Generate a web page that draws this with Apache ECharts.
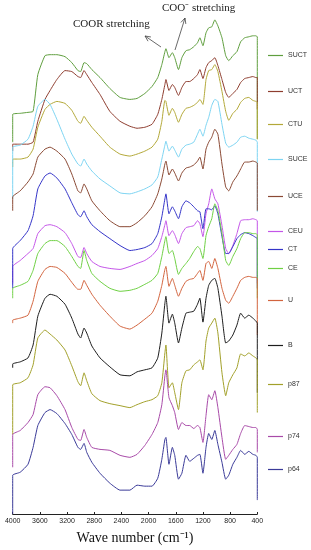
<!DOCTYPE html>
<html>
<head>
<meta charset="utf-8">
<script src="https://cdn.jsdelivr.net/npm/echarts@6/dist/echarts.min.js"></script>
<style>html,body{margin:0;padding:0;background:#fff}#c{width:311px;height:550px}</style>
</head>
<body>
<div id="c"></div>
<script>
// Wavenumbers (cm-1); the first and last entries repeat 4000 / 400 for the vertical edges of each trace
const wavenumbers = [4000,4000,3890,3775,3700,3630,3525,3450,3350,3230,3130,3040,3000,2950,2910,2835,2715,2570,2420,2275,2170,2055,1950,1865,1805,1760,1745,1700,1650,1615,1560,1510,1450,1395,1335,1280,1245,1200,1155,1115,1070,1025,980,920,865,820,760,700,645,585,525,465,420,400,400];
const tickLabels = ['4000','3600','3200','2800','2400','2000','1600','1200','800','400'];
const seriesNames = ['SUCT','UCT','CTU','SUCE','UCE','CEU','CT','CE','U','B','p87','p74','p64'];
const seriesColors = ['#5f9e3e','#8e3d2f','#b3a838','#7dd4f2','#8a4934','#c456e8','#3434c8','#6fd044','#d2643e','#1e1e1e','#a2a02a','#a84aa8','#3a3a98'];
// Stacked (offset) spectra, arbitrary units
const SUCT = [374,402,403,404,405,442,461,462,462,460,454,446,445,454,453,447,439,428,419,417,418,423,430,439,452,465,468,459,464,459,447,459,466,467,470,474,479,471,484,489,490,497,491,479,461,456,461,465,475,479,480,481,481,480,377];
const UCT = [365,372,372,372,374,395,417,426,437,446,445,440,439,446,442,434,422,405,395,390,388,389,392,402,417,432,437,426,432,429,421,429,435,435,438,442,447,438,449,454,456,459,451,437,424,419,423,427,434,438,439,440,439,439,407];
const CTU = [349,357,357,359,367,389,407,412,415,413,406,395,393,400,396,389,380,369,362,360,362,365,369,377,395,416,415,401,408,404,394,402,408,409,411,414,417,412,437,446,447,452,445,425,405,396,403,407,414,418,419,416,415,414,377];
const SUCE = [317,369,371,377,390,410,417,412,397,377,362,352,350,357,352,345,337,330,323,322,324,327,331,339,357,371,375,365,370,366,359,367,371,372,374,382,387,380,391,399,411,417,415,392,373,369,371,374,379,380,378,377,376,374,304];
const UCE = [305,319,325,334,342,359,367,369,365,357,342,325,323,332,327,315,305,295,289,289,293,300,309,322,337,352,355,341,347,343,335,343,348,349,351,355,359,347,367,374,379,387,382,352,329,325,334,340,347,354,354,355,354,353,305];
const CEU = [232,249,255,262,267,282,290,291,289,283,272,259,258,268,262,254,249,247,246,249,252,255,260,267,279,291,295,280,285,281,272,282,288,289,290,295,292,279,302,312,327,317,312,290,267,262,270,282,295,296,296,297,296,295,232];
const CT = [227,267,275,285,300,327,340,343,338,327,313,301,299,305,299,291,284,277,270,265,266,268,272,282,299,317,322,302,309,305,297,309,315,313,309,305,304,287,307,307,306,310,302,279,262,262,269,277,281,283,282,280,278,277,227];
const CE = [217,227,230,234,245,262,272,275,275,269,259,249,247,265,255,242,234,227,224,225,227,231,235,242,259,275,279,262,265,257,241,247,252,257,264,269,267,257,280,289,297,312,305,282,255,250,259,267,277,283,283,282,282,281,217];
const U = [192,195,197,200,214,234,246,249,248,242,233,226,226,235,230,221,210,199,189,186,190,196,202,214,230,246,249,229,237,230,219,227,234,236,237,242,245,235,252,254,247,257,247,227,215,212,219,227,235,238,239,238,238,237,180];
const B = [147,151,153,157,170,199,217,221,219,211,197,181,177,187,182,169,157,148,140,139,143,145,147,157,182,212,219,192,201,192,172,187,202,203,204,211,217,193,217,230,235,237,227,199,172,174,180,190,202,197,200,197,194,192,122];
const p87 = [80,130,132,137,150,177,185,181,175,165,149,133,129,142,134,121,114,111,109,107,110,113,115,119,132,162,170,127,132,122,105,132,144,145,150,153,155,145,174,187,192,197,182,142,119,132,140,147,161,159,162,159,157,155,102];
const p74 = [47,80,84,92,100,120,128,127,119,105,87,75,74,85,77,67,65,64,59,57,60,69,80,92,110,139,145,117,109,102,85,92,89,89,86,89,87,72,99,120,115,124,107,77,55,59,65,70,81,89,88,87,87,85,62];
const p64 = [0,39,42,50,67,89,102,105,101,91,80,67,65,71,62,52,41,31,24,24,29,28,28,36,55,75,77,50,67,59,35,41,59,53,56,59,60,41,67,81,75,84,70,52,35,39,50,57,64,60,63,60,59,57,14];
const seriesValues = [SUCT,UCT,CTU,SUCE,UCE,CEU,CT,CE,U,B,p87,p74,p64];
// legend vertical anchors (px)
const legendY = [57,93,126,161,198,233,251,270,302,347,386,438,471];

const chart = echarts.init(document.getElementById('c'), null, {renderer:'canvas'});
const series = seriesNames.map((n,i)=>({
  name:n, type:'line', symbol:'none', showSymbol:false, smooth:0.15,
  color:seriesColors[i], lineStyle:{width:1, color:seriesColors[i]},
  animation:false,
  data: wavenumbers.map((w,k)=>[w, seriesValues[i][k]])
}));
const legends = seriesNames.map((n,i)=>({
  data:[n], left:268, top:legendY[i]-5, padding:0, icon:'rect', itemWidth:15, itemHeight:1.2,
  itemGap:5, selectedMode:false,
  textStyle:{fontSize:7, color:'#333', fontFamily:'Liberation Sans'}
}));
function arrow(x1,y1,x2,y2){
  const dx=x2-x1, dy=y2-y1, L=Math.hypot(dx,dy), bx=-dx/L, by=-dy/L, a=0.44, s=6;
  const r1=[x2+s*(bx*Math.cos(a)-by*Math.sin(a)), y2+s*(bx*Math.sin(a)+by*Math.cos(a))];
  const r2=[x2+s*(bx*Math.cos(-a)-by*Math.sin(-a)), y2+s*(bx*Math.sin(-a)+by*Math.cos(-a))];
  return [
    {type:'line', shape:{x1,y1,x2,y2}, style:{stroke:'#444', lineWidth:0.8}},
    {type:'polyline', shape:{points:[r1,[x2,y2],r2]}, style:{stroke:'#444', lineWidth:0.8, fill:null}}
  ];
}
chart.setOption({
  animation:false,
  backgroundColor:'#fff',
  grid:{left:12.7, right:53.7, top:0, bottom:33, containLabel:false},
  legend:legends,
  xAxis:{type:'value', min:400, max:4000, interval:400, inverse:true,
    axisLine:{show:true, lineStyle:{color:'#222', width:1}},
    axisTick:{show:true, inside:true, length:2, lineStyle:{color:'#222'}},
    splitLine:{show:false},
    axisLabel:{fontSize:7, color:'#222', margin:4, fontFamily:'Liberation Sans',
      formatter:(v)=>tickLabels.includes(String(v))?String(v):''},
    name:'Wave number (cm\u207B\u00B9)', nameLocation:'middle', nameGap:17,
    nameTextStyle:{fontFamily:'Liberation Serif', fontSize:14, color:'#111'}
  },
  yAxis:{type:'value', min:0, max:517, show:false},
  series:series,
  graphic:[
    {type:'text', left:73, top:19, style:{text:'COOR stretching', fontFamily:'Liberation Serif', fontSize:11, fill:'#222'}},
    {type:'text', left:162, top:3, style:{text:'COO\u207B stretching', fontFamily:'Liberation Serif', fontSize:11, fill:'#222'}},
    ...arrow(161,47,145,36),
    ...arrow(175,50,185,18)
  ]
});
</script>
</body>
</html>
